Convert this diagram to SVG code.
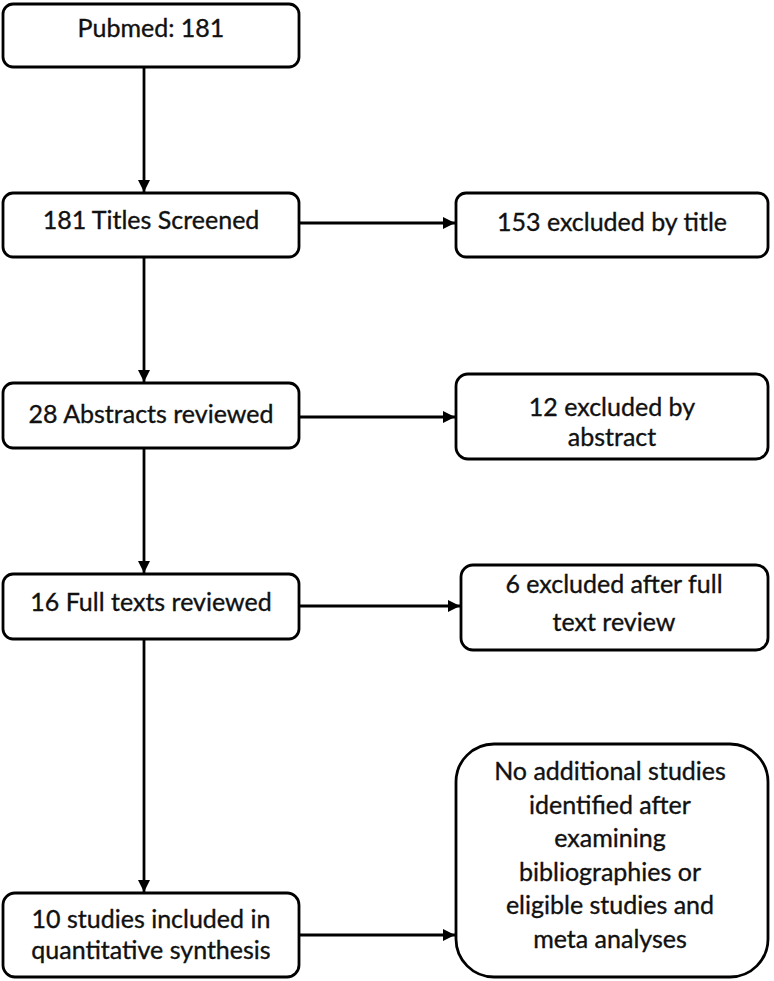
<svg xmlns="http://www.w3.org/2000/svg" width="774" height="981" viewBox="0 0 774 981">
<defs>
<marker id="arr" viewBox="0 0 12 12" refX="12" refY="6" markerWidth="12" markerHeight="12" markerUnits="userSpaceOnUse" orient="auto">
<path d="M0,0 L12,6 L0,12 Z" fill="#000"/>
</marker>
<style>
.box{fill:#fff;stroke:#000;stroke-width:2.8}
.t{font-family:Lato,"Open Sans","Liberation Sans",sans-serif;font-size:25px;fill:#111;stroke:#111;stroke-width:0.35;text-anchor:middle}
.c{stroke:#000;stroke-width:2.8;fill:none;marker-end:url(#arr)}
</style>
</defs>
<rect width="774" height="981" fill="#fff"/>
<g id="connectors">
<line class="c" x1="144" y1="67" x2="144" y2="192"/>
<line class="c" x1="144" y1="257" x2="144" y2="382"/>
<line class="c" x1="144" y1="448" x2="144" y2="573"/>
<line class="c" x1="144" y1="639" x2="144" y2="892"/>
<line class="c" x1="300" y1="223" x2="455" y2="223"/>
<line class="c" x1="300" y1="417" x2="455" y2="417"/>
<line class="c" x1="300" y1="606" x2="460" y2="606"/>
<line class="c" x1="300" y1="935" x2="455" y2="935"/>
</g>
<g id="n1"><rect class="box" x="3" y="4" width="296" height="63" rx="10"/><text class="t" x="151" y="37">Pubmed: 181</text></g>
<g id="n2"><rect class="box" x="3" y="193" width="296" height="64" rx="10"/><text class="t" x="151" y="229">181 Titles Screened</text></g>
<g id="n3"><rect class="box" x="456" y="193" width="312" height="64" rx="10"/><text class="t" x="612" y="231">153 excluded by title</text></g>
<g id="n4"><rect class="box" x="3" y="383" width="296" height="65" rx="10"/><text class="t" x="151" y="423">28 Abstracts reviewed</text></g>
<g id="n5"><rect class="box" x="456" y="374" width="312" height="85" rx="12"/><text class="t" x="612" y="416">12 excluded by</text><text class="t" x="612" y="446">abstract</text></g>
<g id="n6"><rect class="box" x="3" y="574" width="296" height="65" rx="10"/><text class="t" x="151" y="611">16 Full texts reviewed</text></g>
<g id="n7"><rect class="box" x="461" y="565" width="307" height="85" rx="12"/><text class="t" x="614" y="593">6 excluded after full</text><text class="t" x="614" y="631">text review</text></g>
<g id="n8"><rect class="box" x="3" y="893" width="296" height="84" rx="12"/><text class="t" x="151" y="928">10 studies included in</text><text class="t" x="151" y="959">quantitative synthesis</text></g>
<g id="n9"><rect class="box" x="456" y="744" width="312" height="233" rx="38"/>
<text class="t" x="610" y="780">No additional studies</text>
<text class="t" x="610" y="814">identified after</text>
<text class="t" x="610" y="847">examining</text>
<text class="t" x="610" y="881">bibliographies or</text>
<text class="t" x="610" y="914">eligible studies and</text>
<text class="t" x="610" y="948">meta analyses</text>
</g>
</svg>
